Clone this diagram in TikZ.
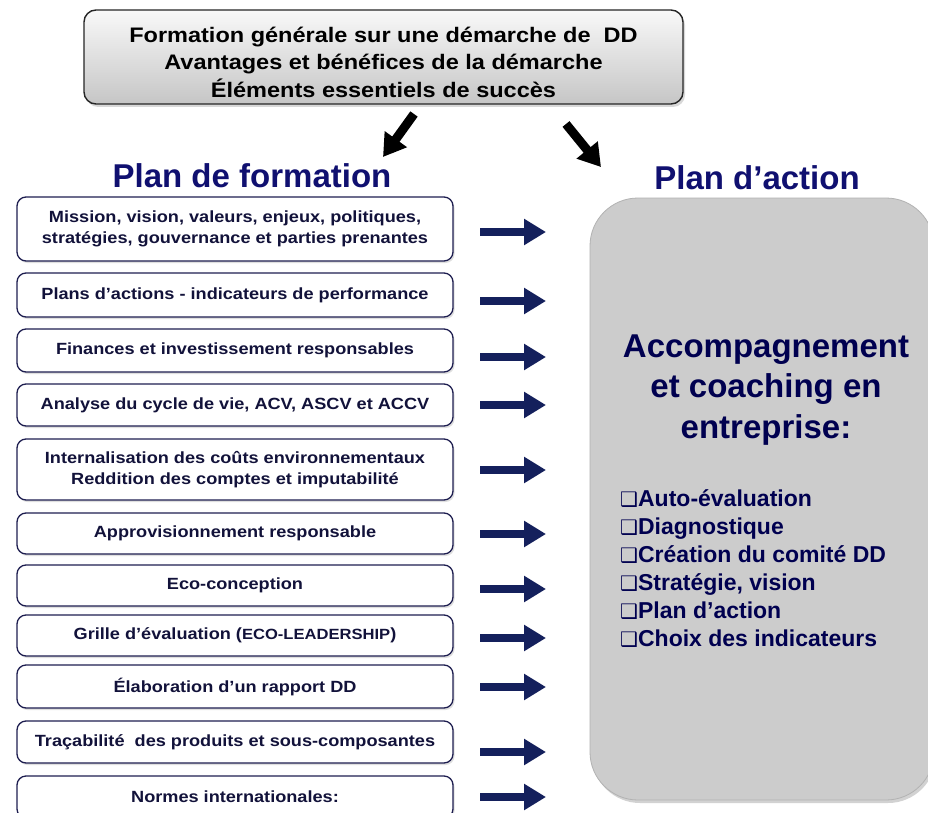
\documentclass[tikz,border=0pt]{standalone}
\usepackage{fontspec}
\setmainfont{Liberation Sans}
\newfontfamily\widefont[FakeStretch=1.12]{Liberation Sans}
\newfontfamily\symfont{DejaVu Sans}
\usetikzlibrary{shadows,arrows.meta,calc}
\definecolor{navytitle}{RGB}{16,16,112}
\definecolor{navytext}{RGB}{0,0,80}
\definecolor{boxtext}{RGB}{18,18,58}
\definecolor{boxline}{RGB}{30,30,80}
\definecolor{arrownavy}{RGB}{20,32,92}
\definecolor{panelgray}{RGB}{204,204,204}
\tikzset{
  topbox/.style={draw=black!85, line width=1.4pt, rounded corners=12pt,
    top color=gray!5, bottom color=gray!45, minimum width=599pt, minimum height=94pt,
    drop shadow={shadow xshift=2pt, shadow yshift=-3pt, opacity=0.3}},
  toptext/.style={align=center, font=\widefont\bfseries\fontsize{21}{27.5}\selectfont, text=black},
  stepbox/.style={draw=boxline, line width=1.3pt, rounded corners=9pt, fill=white,
    minimum width=436pt, align=center, text=boxtext,
    font=\widefont\bfseries\fontsize{16.2}{21}\selectfont,
    drop shadow={shadow xshift=1.5pt, shadow yshift=-2pt, opacity=0.25}},
  panel/.style={draw=gray!60, line width=0.8pt, rounded corners=48pt, fill=panelgray,
    drop shadow={shadow xshift=2pt, shadow yshift=-3pt, opacity=0.35}},
  title/.style={text=navytitle, font=\bfseries\fontsize{33}{36}\selectfont},
  navyarrow/.style={draw=arrownavy, line width=8.5pt,
    -{Triangle[length=22pt,width=25pt]}},
  blackarrow/.style={draw=black, line width=9pt,
    -{Triangle[length=22pt,width=26pt]}},
}
\begin{document}
\begin{tikzpicture}[x=1pt,y=-1pt]
\useasboundingbox (0,0) rectangle (928,813);
\fill[white] (0,0) rectangle (928,813);

% top box
\node[topbox] (top) at (383.5,57) {};
\node[toptext] (toplabel) at (383.5,62) {Formation générale sur une démarche de~~DD\\Avantages et bénéfices de la démarche\\Éléments essentiels de succès};

% titles
\node[title] (pf) at (252,176) {Plan de formation};
\node[title] (pa) at (757,178) {Plan d’action};

% black arrows
\coordinate (la1) at (414,114);
\coordinate (la2) at (383,157);
\coordinate (ra1) at (566,124);
\coordinate (ra2) at (601,167);
\draw[blackarrow] (la1) -- (la2);
\draw[blackarrow] (ra1) -- (ra2);

% right panel
\draw[panel] (590,198) rectangle (934,800);
\node[text=navytext, font=\bfseries\fontsize{33}{40.5}\selectfont, align=center] (acc) at (766,390)
  {Accompagnement\\et coaching en\\entreprise:};
\node[text=navytext, font=\bfseries\fontsize{23}{28}\selectfont, align=left, anchor=west, inner sep=0pt] (list) at (620,569)
  {{\symfont\fontsize{20}{28}\selectfont ❑}Auto-évaluation\\{\symfont\fontsize{20}{28}\selectfont ❑}Diagnostique\\{\symfont\fontsize{20}{28}\selectfont ❑}Création du comité DD\\{\symfont\fontsize{20}{28}\selectfont ❑}Stratégie, vision\\{\symfont\fontsize{20}{28}\selectfont ❑}Plan d’action\\{\symfont\fontsize{20}{28}\selectfont ❑}Choix des indicateurs};

% left boxes
\node[stepbox, minimum height=64pt] (b1) at (235,229) {Mission, vision, valeurs, enjeux, politiques,\\stratégies, gouvernance et parties prenantes};
\node[stepbox, minimum height=44pt] (b2) at (235,295) {Plans d’actions - indicateurs de performance};
\node[stepbox, minimum height=43pt] (b3) at (235,350.5) {Finances et investissement responsables};
\node[stepbox, minimum height=42pt] (b4) at (235,405) {Analyse du cycle de vie, ACV, ASCV et ACCV};
\node[stepbox, minimum height=61pt] (b5) at (235,469.5) {Internalisation des coûts environnementaux\\Reddition des comptes et imputabilité};
\node[stepbox, minimum height=41pt] (b6) at (235,533.5) {Approvisionnement responsable};
\node[stepbox, minimum height=41pt] (b7) at (235,585.5) {Eco-conception};
\node[stepbox, minimum height=41pt] (b8) at (235,635.5) {Grille d’évaluation ({\fontsize{14.8}{21}\selectfont ECO-LEADERSHIP})};
\node[stepbox, minimum height=43pt] (b9) at (235,686.5) {Élaboration d’un rapport DD};
\node[stepbox, minimum height=42pt] (b10) at (235,742) {Traçabilité~~des produits et sous-composantes};
\node[stepbox, minimum height=42pt] (b11) at (235,797) {Normes internationales:};

% navy arrows
\foreach \i/\y in {1/232,2/301,3/357,4/405,5/470,6/534,7/589,8/638,9/687,10/752,11/797}{
  \coordinate (s\i) at (480,\y);
  \coordinate (e\i) at (546,\y);
  \draw[navyarrow] (s\i) -- (e\i);
}
\end{tikzpicture}
\end{document}
